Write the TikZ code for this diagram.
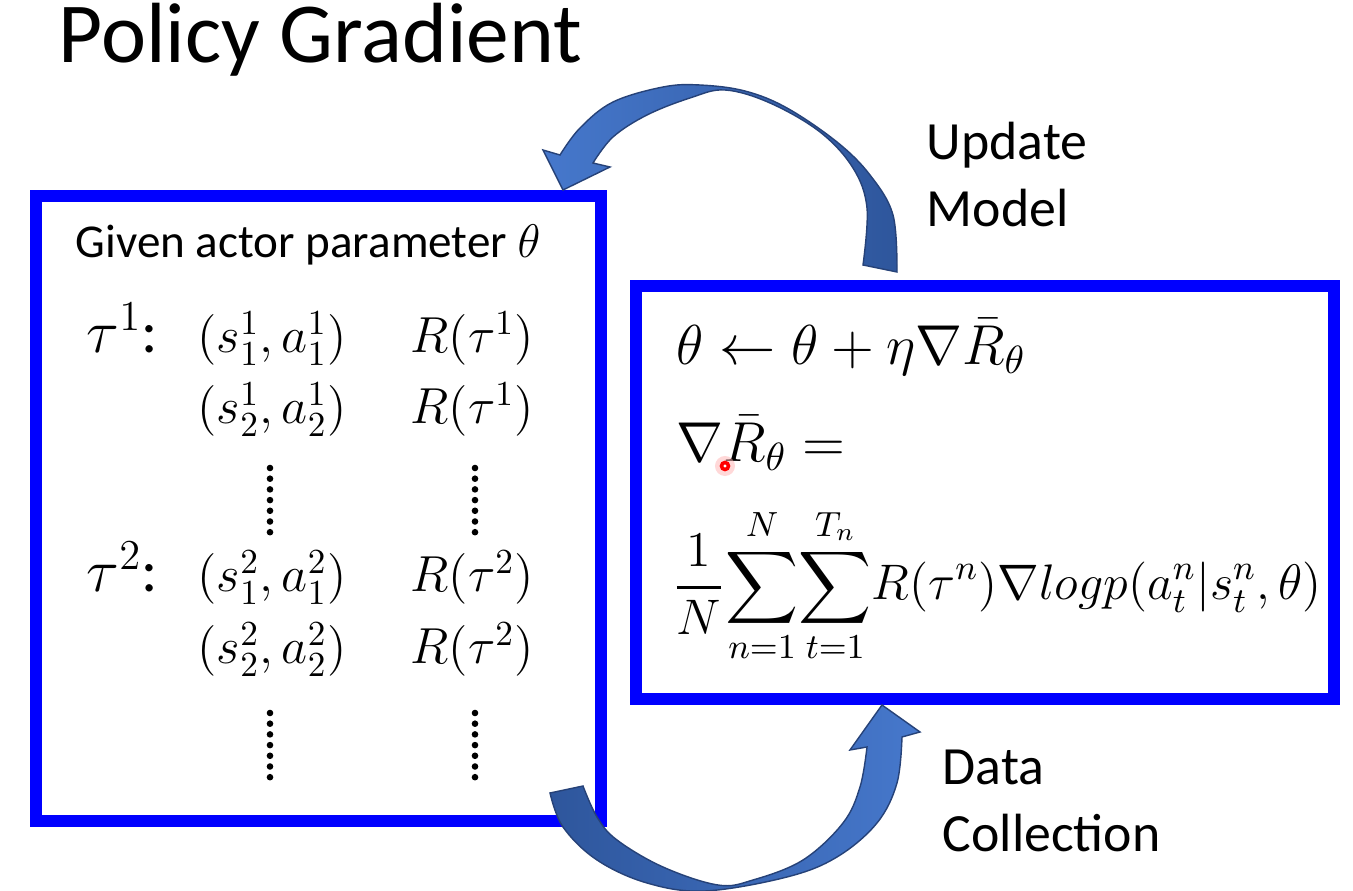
\documentclass[tikz,border=0pt]{standalone}
\usepackage{fix-cm}
\usepackage{amsmath}
\usepackage{fontspec}
\setmainfont{Carlito}
\usetikzlibrary{positioning,calc}

\definecolor{frameblue}{RGB}{0,0,255}
\definecolor{arrlight}{RGB}{70,120,204}
\definecolor{arrdark}{RGB}{46,86,156}
\definecolor{arredge}{RGB}{38,66,120}

\begin{document}
\begin{tikzpicture}[x=0.01cm, y=-0.01cm,
    frame/.style={draw=frameblue, line width=3.4pt, inner sep=0pt},
    heading/.style={font=\fontsize{24.3}{29}\selectfont, inner sep=0pt, anchor=base west},
    label/.style={font=\fontsize{15.3}{19}\selectfont, inner sep=0pt, anchor=base west},
    given/.style={font=\fontsize{13.4}{16}\selectfont, inner sep=0pt, anchor=base west},
    traj/.style={font=\fontsize{17.3}{20}\selectfont, inner sep=0pt, anchor=base west},
    mrow/.style={font=\fontsize{14.4}{18}\selectfont, inner sep=0pt, anchor=base west},
    mth/.style={font=\fontsize{16}{19}\selectfont, inner sep=0pt, anchor=base west},
    bigarr/.style={draw=arredge, line width=0.4pt},
  ]
  \useasboundingbox (0,0) rectangle (1353,891);

  % --- title ---
  \node[heading] (title) at (58,63) {Policy Gradient};

  % --- the two boxes ---
  \node[frame, minimum width=5.65cm, minimum height=6.25cm] (actor) at (318.5,508.5) {};
  \node[frame, minimum width=6.98cm, minimum height=4.13cm] (update) at (985,492.5) {};

  % --- sampled trajectories (left box) ---
  \node[given] (given) at (75,258) {Given actor parameter $\theta$};

  \node[traj] (tau1) at (86,353) {$\tau^1$:};
  \node[mrow] (sa11) at (197,353) {$(s_1^1,a_1^1)$};
  \node[mrow] (r11) at (410,353) {$R(\tau^1)$};
  \node[mrow] (sa12) at (197,424) {$(s_2^1,a_2^1)$};
  \node[mrow] (r12) at (410,424) {$R(\tau^1)$};

  \node[traj] (tau2) at (86,592) {$\tau^2$:};
  \node[mrow] (sa21) at (197,592) {$(s_1^2,a_1^2)$};
  \node[mrow] (r21) at (410,592) {$R(\tau^2)$};
  \node[mrow] (sa22) at (197,664) {$(s_2^2,a_2^2)$};
  \node[mrow] (r22) at (410,664) {$R(\tau^2)$};

  % vertical dots
  \foreach \cx in {270,475}
    \foreach \cy in {468,713}
      \foreach \k in {0,...,6}
        \fill (\cx,\cy+10.7*\k) circle (0.033cm);

  % --- update rule (right box) ---
  \node[mth] (rule) at (676,365) {$\theta \leftarrow \theta + \eta\nabla\bar{R}_\theta$};
  \node[mth] (grad) at (676,462) {$\nabla\bar{R}_\theta =$};
  \node[mth, font=\fontsize{14.2}{17}\selectfont] (sumf) at (672,600)
    {$\displaystyle\frac{1}{N}\!\sum_{n=1}^{N}\!\sum_{t=1}^{T_n}\!R(\tau^n)\nabla logp(a_t^n|s_t^n,\theta)$};

  % laser pointer
  \fill[red!30, opacity=0.5] (725,466) circle (0.1cm);
  \draw[red, line width=1pt, fill=white] (725,466) circle (0.035cm);

  % --- side labels ---
  \node[label] (upd) at (926,160) {Update};
  \node[label] (mdl) at ($(upd.base west)+(0,67)$) {Model};
  \node[label] (data) at (942,785) {Data};
  \node[label] (coll) at ($(data.base west)+(0,67)$) {Collection};

  % --- curved block arrows ---
  % update model: right box -> left box
  \shadedraw[bigarr, left color=arrlight, right color=arrdark]
    (897,272) -- plot[smooth, tension=0.6] coordinates {(897,272) (893,215) (870,175)
      (837,142) (787,108) (745,91) (700,85) (663,87) (613,102) (580,128) (560,155)}
    -- (543,150) -- (563,190) -- (610,167) -- (593,163)
    -- plot[smooth, tension=0.6] coordinates {(593,163) (613,137) (647,115) (690,98)
      (725,90) (770,103) (820,132) (853,168) (867,208) (863,265)}
    -- cycle;

  % data collection: left box -> right box
  \shadedraw[bigarr, left color=arrdark, right color=arrlight]
    (550,793) -- plot[smooth, tension=0.6] coordinates {(550,793) (563,827) (597,860)
      (647,883) (705,891) (787,877) (837,857) (877,823) (897,783) (902,737)}
    -- (920,732) -- (882,705) -- (850,750) -- (867,747)
    -- plot[smooth, tension=0.6] coordinates {(867,747) (860,787) (843,823) (803,860)
      (753,880) (718,885) (663,867) (617,840) (597,817) (583,786)}
    -- cycle;

\end{tikzpicture}
\end{document}
